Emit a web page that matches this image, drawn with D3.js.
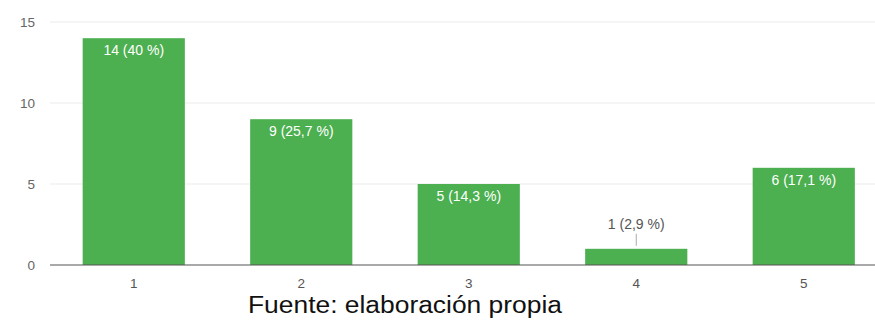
<!DOCTYPE html>
<html><head><meta charset="utf-8">
<script src="https://cdn.jsdelivr.net/npm/d3@7"></script>
<style>body{margin:0;background:#fff}svg{display:block}</style>
</head><body><svg id="c" width="875" height="323"></svg>
<script>
const categories = ["1","2","3","4","5"];
const values = [14, 9, 5, 1, 6];
const labels = ["14 (40 %)","9 (25,7 %)","5 (14,3 %)","1 (2,9 %)","6 (17,1 %)"];
const yTicks = [0, 5, 10, 15];
const caption = "Fuente: elaboración propia";

const FONT = "Arial, 'Liberation Sans', sans-serif";
const svg = d3.select("#c");
const x = d3.scaleBand().domain(categories).range([50, 887.5]).paddingInner(0.39).paddingOuter(0.195);
const y = d3.scaleLinear().domain([0, 15]).range([265, 22]);

// gridlines
svg.append("g").selectAll("line").data(yTicks.filter(d => d > 0)).join("line")
  .attr("x1", 50).attr("x2", 875).attr("y1", d => y(d)).attr("y2", d => y(d))
  .attr("stroke", "#ebebeb").attr("stroke-width", 1);

// y axis
const ya = svg.append("g").attr("transform", "translate(50,0)")
  .call(d3.axisLeft(y).tickValues(yTicks).tickSize(0).tickPadding(15));
ya.select(".domain").remove();
ya.selectAll("text").attr("fill", "#666").attr("font-family", FONT).attr("font-size", 13.5);

// bars
svg.append("g").selectAll("rect").data(values).join("rect")
  .attr("x", (d, i) => x(categories[i])).attr("width", x.bandwidth())
  .attr("y", d => y(d)).attr("height", d => y(0) - y(d))
  .attr("fill", "#4caf50");

// baseline
svg.append("line").attr("x1", 50).attr("x2", 875).attr("y1", y(0)).attr("y2", y(0))
  .attr("stroke", "#555").attr("stroke-width", 1.2);

// x axis
const xa = svg.append("g").attr("transform", `translate(0,${y(0)})`)
  .call(d3.axisBottom(x).tickSize(0).tickPadding(13));
xa.select(".domain").remove();
xa.selectAll("text").attr("fill", "#555").attr("font-family", FONT).attr("font-size", 13.5);

// value labels
values.forEach((v, i) => {
  const cx = x(categories[i]) + x.bandwidth() / 2;
  const inside = (y(0) - y(v)) > 25;
  if (inside) {
    svg.append("text").attr("x", cx).attr("y", y(v) + 17).attr("text-anchor", "middle")
      .attr("fill", "#fff").attr("font-family", FONT)
      .attr("font-size", 14).text(labels[i]);
  } else {
    svg.append("line").attr("x1", cx).attr("x2", cx).attr("y1", y(v) - 15).attr("y2", y(v) - 3)
      .attr("stroke", "#aaa").attr("stroke-width", 1);
    svg.append("text").attr("x", cx).attr("y", y(v) - 20).attr("text-anchor", "middle")
      .attr("fill", "#555").attr("font-family", FONT)
      .attr("font-size", 14).text(labels[i]);
  }
});

// caption
svg.append("text").attr("x", 405).attr("y", 313).attr("text-anchor", "middle")
  .attr("fill", "#111").attr("font-family", FONT)
  .attr("font-size", 23).attr("textLength", 314).attr("lengthAdjust", "spacingAndGlyphs")
  .text(caption);
</script></body></html>
